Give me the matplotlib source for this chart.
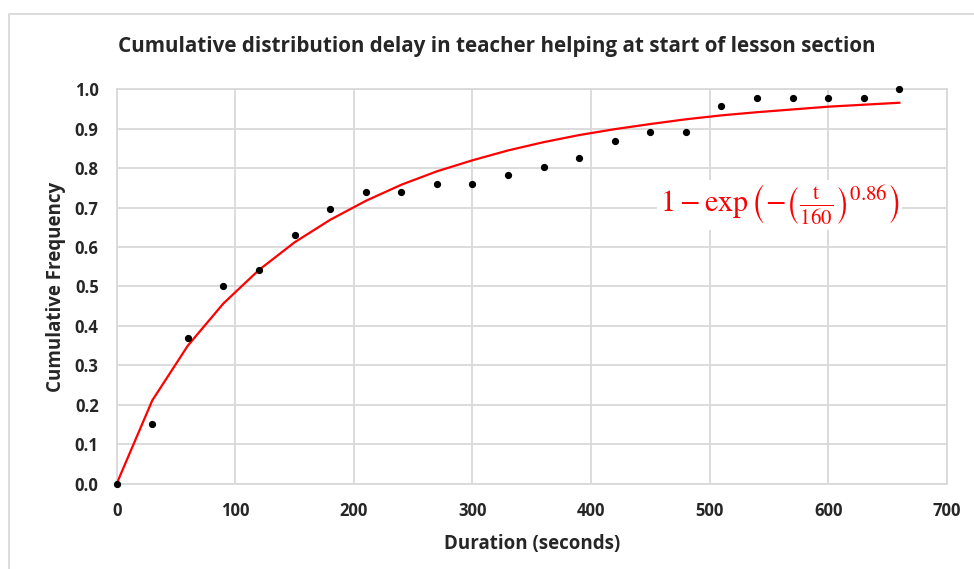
import numpy as np
import matplotlib.pyplot as plt
from matplotlib.lines import Line2D

# observed delays (seconds) and cumulative frequency
duration = [0, 30, 60, 90, 120, 150, 180, 210, 240, 270, 300, 330,
            360, 390, 420, 450, 480, 510, 540, 570, 600, 630, 660]
cum_freq = [0.0, 0.152, 0.370, 0.500, 0.543, 0.630, 0.696, 0.739, 0.739,
            0.761, 0.761, 0.783, 0.804, 0.826, 0.870, 0.891, 0.891,
            0.957, 0.978, 0.978, 0.978, 0.978, 1.0]

# fitted weibull curve at the same durations
fit_vals = [0.0, 0.211, 0.350, 0.457, 0.542, 0.612, 0.669, 0.717, 0.758,
            0.792, 0.820, 0.845, 0.866, 0.884, 0.899, 0.912, 0.924,
            0.934, 0.942, 0.949, 0.956, 0.961, 0.966]

x_ticks = [0, 100, 200, 300, 400, 500, 600, 700]
y_ticks = [0.0, 0.1, 0.2, 0.3, 0.4, 0.5, 0.6, 0.7, 0.8, 0.9, 1.0]

grid_col = '#d9d9d9'
txt_col = '#262626'

plt.rcParams['font.family'] = ['Open Sans', 'DejaVu Sans']
plt.rcParams['mathtext.fontset'] = 'stix'

fig = plt.figure(figsize=(9.74, 5.69), dpi=100)
ax = fig.add_axes([0.1198, 0.150, 0.8522, 0.693])

ax.plot(duration, fit_vals, color='#ff0000', lw=1.6, zorder=3)
ax.plot(duration, cum_freq, 'o', color='black', ms=4.2, zorder=4, clip_on=False)

ax.set_xlim(0, 700)
ax.set_ylim(0, 1.0)
ax.set_xticks(x_ticks)
ax.set_yticks(y_ticks)
ax.set_yticklabels([f'{v:.1f}' for v in y_ticks])
ax.tick_params(length=0, labelsize=12, labelcolor=txt_col)
ax.tick_params(axis='y', pad=13)
ax.tick_params(axis='x', pad=13)
for lab in ax.get_xticklabels() + ax.get_yticklabels():
    lab.set_fontweight('bold')
ax.grid(True, color=grid_col, lw=1.3)
ax.set_axisbelow(True)
for sp in ax.spines.values():
    sp.set_color(grid_col)
    sp.set_linewidth(1.3)

ax.set_xlabel('Duration (seconds)', fontsize=13.5, fontweight='bold', color=txt_col, labelpad=10)
ax.set_ylabel('Cumulative Frequency', fontsize=13.5, fontweight='bold', color=txt_col, labelpad=6)
fig.text(0.51, 0.919, 'Cumulative distribution delay in teacher helping at start of lesson section',
         ha='center', va='center', fontsize=14.9, fontweight='bold', color=txt_col)

ax.text(559, 0.707, r'$1-\exp\left(-\left(\frac{\mathrm{t}}{160}\right)^{0.86}\right)$',
        ha='center', va='center', fontsize=21.5, color='#ff0000', zorder=5,
        bbox=dict(facecolor='white', edgecolor='none', pad=2))

# outer chart frame
fig.add_artist(Line2D([9/974, 9/974, 1.0], [0.0, 1 - 14/569, 1 - 14/569],
                      transform=fig.transFigure, color=grid_col, lw=1.3))

fig.savefig('out.png', dpi=100)
